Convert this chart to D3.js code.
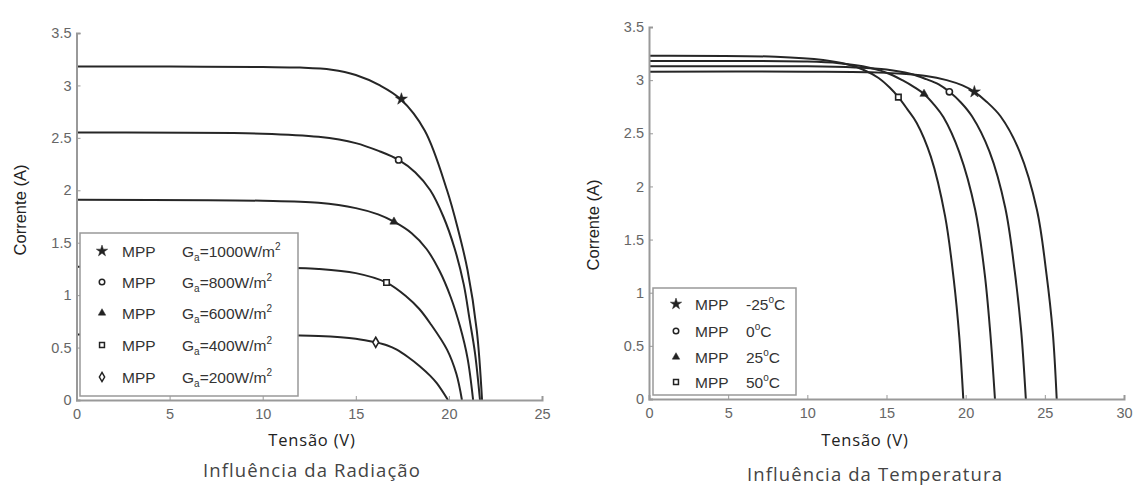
<html>
<head>
  <script src="https://d3js.org/d3.v7.min.js"></script>
  <style>
    body { margin: 0; background: #fff; }
    .tick text { font-family: "Liberation Sans", Arial, sans-serif; font-size: 14.5px; fill: #666; }
    .ylab { font-family: "Liberation Sans", Arial, sans-serif; font-size: 16.5px; fill: #222; }
    .xlab { font-family: "Open Sans", sans-serif; font-size: 16.5px; letter-spacing: 0.8px; fill: #222; }
    .sub { font-family: "Open Sans", sans-serif; font-size: 18.5px; letter-spacing: 1.1px; fill: #444; }
    .leg { font-family: "Liberation Sans", Arial, sans-serif; font-size: 15.5px; fill: #333; }
  </style>
</head>
<body>
  <svg id="chart" width="1133" height="489"></svg>

  <script>
    // --- Influência da Radiação (I-V curves for irradiance levels) ---
    const radLabels = ['1000', '800', '600', '400', '200'];
    const radV1000 = [0, 5, 10, 12, 13.7, 15, 16.3, 17.4, 18.7, 19.9, 20.5, 21.0, 21.5, 21.78];
    const radI1000 = [3.18, 3.18, 3.175, 3.17, 3.15, 3.10, 3.00, 2.87, 2.57, 2.0, 1.62, 1.24, 0.66, 0];
    const radV800 = [0, 10, 13, 15, 16.3, 17.3, 18.2, 19.0, 19.7, 20.3, 20.8, 21.1, 21.4, 21.67];
    const radI800 = [2.55, 2.54, 2.51, 2.45, 2.37, 2.29, 2.17, 2.0, 1.75, 1.45, 1.1, 0.78, 0.45, 0];
    const radV600 = [0, 10, 13, 15, 16.2, 17.05, 18.0, 18.8, 19.5, 20.1, 20.6, 21.0, 21.3];
    const radI600 = [1.91, 1.90, 1.88, 1.83, 1.77, 1.70, 1.59, 1.44, 1.23, 0.98, 0.7, 0.4, 0];
    const radV400 = [0, 10, 13, 15, 16.65, 17.7, 18.4, 19.0, 19.9, 20.4, 20.7];
    const radI400 = [1.27, 1.265, 1.25, 1.21, 1.12, 0.99, 0.87, 0.73, 0.48, 0.25, 0];
    const radV200 = [0, 10, 13, 15, 16.07, 16.7, 17.2, 17.8, 18.45, 19.0, 19.35, 19.95];
    const radI200 = [0.625, 0.62, 0.61, 0.585, 0.55, 0.52, 0.48, 0.41, 0.32, 0.23, 0.16, 0];
    const radMppV = [17.45, 17.3, 17.05, 16.65, 16.07];
    const radMppI = [2.87, 2.29, 1.70, 1.12, 0.55];

    // --- Influência da Temperatura ---
    const tempLabels = ['-25', '0', '25', '50'];
    const tmpVm25 = [0, 10, 14, 16, 17.5, 18.8, 19.8, 20.55, 21.3, 22.2, 23.4, 24.5, 25.1, 25.5, 25.75];
    const tmpIm25 = [3.08, 3.08, 3.075, 3.06, 3.04, 3.00, 2.95, 2.89, 2.80, 2.66, 2.33, 1.78, 1.18, 0.63, 0];
    const tmpV0 = [0, 10, 13, 15, 16.5, 17.5, 18.3, 18.97, 19.7, 20.4, 21.5, 22.5, 23.1, 23.5, 23.8];
    const tmpI0 = [3.13, 3.13, 3.12, 3.10, 3.06, 3.01, 2.96, 2.89, 2.79, 2.66, 2.33, 1.80, 1.20, 0.65, 0];
    const tmpV25 = [0, 10, 12, 13.5, 15, 16, 16.8, 17.37, 18.0, 18.6, 19.6, 20.6, 21.2, 21.55, 21.85];
    const tmpI25 = [3.18, 3.175, 3.16, 3.13, 3.07, 3.00, 2.93, 2.87, 2.77, 2.65, 2.32, 1.78, 1.18, 0.63, 0];
    const tmpV50 = [0, 8, 11, 12.5, 13.5, 14.5, 15.2, 15.75, 16.3, 16.9, 17.8, 18.7, 19.25, 19.6, 19.85];
    const tmpI50 = [3.23, 3.22, 3.19, 3.15, 3.10, 3.02, 2.93, 2.84, 2.73, 2.60, 2.28, 1.72, 1.12, 0.58, 0];
    const tmpMppV = [20.55, 18.97, 17.37, 15.75];
    const tmpMppI = [2.89, 2.89, 2.87, 2.84];

    const yTicks = [0, 0.5, 1, 1.5, 2, 2.5, 3, 3.5];
    const xTicksRad = [0, 5, 10, 15, 20, 25];
    const xTicksTmp = [0, 5, 10, 15, 20, 25, 30];

    const radSymbols = [d3.symbolStar, d3.symbolCircle, d3.symbolTriangle, d3.symbolSquare, d3.symbolDiamond];
    const tmpSymbols = [d3.symbolStar, d3.symbolCircle, d3.symbolTriangle, d3.symbolSquare];
    const filled = [true, false, true, false, false];

    const svg = d3.select('#chart');

    function zip(vs, is) { return vs.map((v, k) => [v, is[k]]); }

    function drawPanel(opt) {
      const x = d3.scaleLinear().domain([0, opt.xmax]).range([opt.x0, opt.x1]);
      const y = d3.scaleLinear().domain([0, 3.5]).range([opt.y0, opt.y1]);
      const g = svg.append('g');

      const line = d3.line().x(d => x(d[0])).y(d => y(d[1])).curve(d3.curveCatmullRom.alpha(0.5));
      g.selectAll('path.curve')
        .data(opt.curves)
        .enter().append('path')
        .attr('class', 'curve')
        .attr('d', line)
        .attr('fill', 'none')
        .attr('stroke', '#262626')
        .attr('stroke-width', 2);

      // MPP markers
      opt.mppV.forEach((v, k) => {
        g.append('path')
          .attr('d', d3.symbol().type(opt.symbols[k]).size(k === 0 ? 45 : 30)())
          .attr('transform', `translate(${x(v)},${y(opt.mppI[k])})`)
          .attr('fill', filled[k] ? '#222' : '#fff')
          .attr('stroke', '#222')
          .attr('stroke-width', filled[k] ? 0.5 : 1.6);
      });

      // axes (MATLAB-ish, no box)
      const xAxis = d3.axisBottom(x).tickValues(opt.xticks).tickSize(-4).tickPadding(7).tickFormat(d3.format('d'));
      const yAxis = d3.axisLeft(y).tickValues(yTicks).tickSize(-4).tickPadding(5).tickFormat(d => d);
      const gx = g.append('g').attr('transform', `translate(0,${opt.y0})`).call(xAxis);
      const gy = g.append('g').attr('transform', `translate(${opt.x0},0)`).call(yAxis);
      [gx, gy].forEach(a => {
        a.select('.domain').attr('stroke', '#999').attr('stroke-width', 2);
        a.selectAll('.tick line').attr('stroke', '#999');
      });
      gx.selectAll('.tick text').attr('dy', '0.85em');

      // legend
      const lg = g.append('g');
      lg.append('rect')
        .attr('x', opt.leg.x).attr('y', opt.leg.y)
        .attr('width', opt.leg.w).attr('height', opt.leg.h)
        .attr('fill', '#fff').attr('stroke', '#999').attr('stroke-width', 1.5);
      opt.legLabels.forEach((lab, k) => {
        const ry = opt.leg.rows[k];
        lg.append('path')
          .attr('d', d3.symbol().type(opt.symbols[k]).size(k === 0 ? 40 : 24)())
          .attr('transform', `translate(${opt.leg.mx},${ry})`)
          .attr('fill', filled[k] ? '#222' : '#fff')
          .attr('stroke', '#222')
          .attr('stroke-width', filled[k] ? 0.5 : 1.5);
        lg.append('text').attr('class', 'leg')
          .attr('x', opt.leg.tx).attr('y', ry + 5.5).text('MPP');
        const t = lg.append('text').attr('class', 'leg').attr('x', opt.leg.vx).attr('y', ry + 5.5);
        opt.legendText(t, lab);
      });

      // labels
      svg.append('text').attr('class', 'ylab')
        .attr('transform', `translate(${opt.ylabX},${opt.ylabY}) rotate(-90)`)
        .attr('text-anchor', 'middle').text('Corrente (A)');
      svg.append('text').attr('class', 'xlab')
        .attr('x', opt.xlabX).attr('y', 446).attr('text-anchor', 'middle').text('Tensão (V)');
      svg.append('text').attr('class', 'sub')
        .attr('x', opt.subX).attr('y', opt.subY).attr('text-anchor', 'middle').text(opt.title);
    }

    drawPanel({
      xmax: 25, x0: 76.5, x1: 542, y0: 400, y1: 33, xticks: xTicksRad,
      curves: [zip(radV1000, radI1000), zip(radV800, radI800), zip(radV600, radI600), zip(radV400, radI400), zip(radV200, radI200)],
      mppV: radMppV, mppI: radMppI, symbols: radSymbols,
      leg: { x: 80, y: 233, w: 218, h: 163, rows: [251, 282, 313, 345, 377], mx: 102, tx: 122, vx: 182 },
      legLabels: radLabels,
      legendText: (t, lab) => {
        t.append('tspan').text('G');
        t.append('tspan').attr('dy', 4).attr('font-size', 10).text('a');
        t.append('tspan').attr('dy', -4).text(`=${lab}W/m`);
        t.append('tspan').attr('dy', -7).attr('font-size', 10).text('2');
      },
      ylabX: 26, ylabY: 210, xlabX: 312, subX: 312, subY: 477,
      title: 'Influência da Radiação'
    });

    drawPanel({
      xmax: 30, x0: 649, x1: 1124, y0: 399, y1: 27, xticks: xTicksTmp,
      curves: [zip(tmpVm25, tmpIm25), zip(tmpV0, tmpI0), zip(tmpV25, tmpI25), zip(tmpV50, tmpI50)],
      mppV: tmpMppV, mppI: tmpMppI, symbols: tmpSymbols,
      leg: { x: 653, y: 288, w: 143, h: 107, rows: [304, 331, 357, 382], mx: 676, tx: 695, vx: 746 },
      legLabels: tempLabels,
      legendText: (t, lab) => {
        t.append('tspan').text(lab);
        t.append('tspan').attr('dy', -7).attr('font-size', 10).text('o');
        t.append('tspan').attr('dy', 7).text('C');
      },
      ylabX: 599, ylabY: 225, xlabX: 865, subX: 875, subY: 481,
      title: 'Influência da Temperatura'
    });
  </script>
</body>
</html>
